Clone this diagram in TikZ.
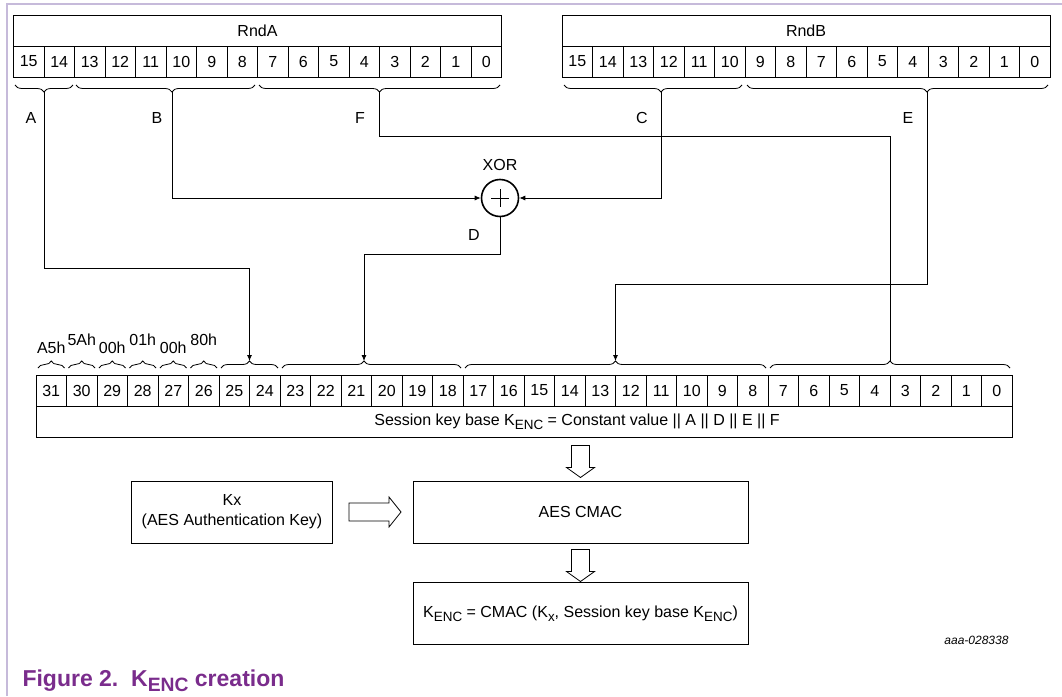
\documentclass[tikz,border=0pt]{standalone}
\usepackage{fontspec}
\setmainfont{Liberation Sans}
\usepackage{tikz}
\usetikzlibrary{arrows}
\usetikzlibrary{arrows.meta}
\usetikzlibrary{decorations.pathreplacing}
\usepackage{xcolor}
\definecolor{figpurple}{RGB}{122,44,140}
\definecolor{framelilac}{RGB}{198,186,218}
\newcommand{\subx}[1]{\raisebox{-0.45ex}{\scalebox{0.84}{#1}}}
\newcommand{\Kenc}{K\subx{ENC}}

\begin{document}
\begin{tikzpicture}[x=1pt,y=-1pt,font=\fontsize{16}{19}\selectfont]
\tikzstyle{bit}=[draw,line width=1pt,minimum width=30.5pt,minimum height=31pt,inner sep=0pt]
\tikzstyle{wordbox}=[draw,line width=1pt,minimum height=31pt,inner sep=0pt]
\tikzstyle{box}=[draw,line width=1pt,minimum height=62pt,inner sep=0pt,align=center,font=\fontsize{16}{20}\selectfont]
\tikzstyle{wire}=[line width=0.8pt]
\tikzstyle{tip}=[-{Latex[length=6pt,width=5pt]}]
\tikzstyle{brc}=[decorate,line width=0.8pt,decoration={brace,amplitude=7pt}]
\tikzstyle{hollow}=[draw,line width=0.8pt,line join=miter]

\useasboundingbox (0,0) rectangle (1062,696);
\draw[framelilac,line width=1.5pt] (7,696) -- (7,4) -- (1062,4);

% random numbers
\node[wordbox,minimum width=488pt] (rnda) at (257.5,30.5) {RndA};
\node[wordbox,minimum width=488pt] (rndb) at (806,30.5) {RndB};
\foreach \i in {0,...,15} {
  \node[bit] (a\i) at ({13.5+(15.5-\i)*30.5},61.5) {\i};
  \node[bit] (b\i) at ({562+(15.5-\i)*30.5},61.5) {\i};
}

\draw[brc,decoration={mirror}] (15,85) -- (73,85);
\draw[brc,decoration={mirror,aspect=0.536}] (76,85) -- (255,85);
\draw[brc,decoration={mirror}] (259,85) -- (500,85);
\draw[brc,decoration={mirror,aspect=0.545}] (564,85) -- (742,85);
\draw[brc,decoration={mirror,aspect=0.598}] (747,85) -- (1048,85);
\coordinate (tA) at (44,92);
\coordinate (tB) at (172,92);
\coordinate (tF) at (379.5,92);
\coordinate (tC) at (661,92);
\coordinate (tE) at (927,92);

\node (labA) at (31,118) {A};
\node (labB) at (157,118) {B};
\node (labF) at (360,118) {F};
\node (labC) at (642,118) {C};
\node (labE) at (908,118) {E};

% xor
\node[draw,circle,line width=1.6pt,minimum size=37pt,inner sep=0pt] (xor) at (500,198) {};
\draw[line width=0.8pt] (xor.center) ++(-9,0) -- ++(18,0);
\draw[line width=0.8pt] (xor.center) ++(0,-9) -- ++(0,18);
\node (xorlbl) at (500,165) {XOR};
\node (labD) at (474,235) {D};

% session key base
\node[wordbox,minimum width=976pt] (skb) at (524,421.5) {};
\node (skbtxt) at (577,421.5) {Session key base \Kenc{} = Constant value || A || D || E || F};
\foreach \i in {0,...,31}
  \node[bit] (s\i) at ({36+(31.5-\i)*30.5},390.5) {\i};

\foreach \v/\j/\yy in {A5h/0/348,5Ah/1/340,00h/2/348,01h/3/340,00h/4/348,80h/5/340} {
  \draw[brc] ({38+\j*30.5},368) -- ({64.5+\j*30.5},368);
  \node (k\j) at ({51.25+\j*30.5},\yy) {\v};
}
\draw[brc] (221,368) -- (278,368);
\draw[brc,decoration={aspect=0.458}] (282,368) -- (461,368);
\draw[brc] (465,368) -- (766,368);
\draw[brc] (770,368) -- (1010,368);
\coordinate (bA) at (249.5,361);
\coordinate (bD) at (364,361);
\coordinate (bE) at (615.5,361);
\coordinate (bF) at (890,361);

\draw[wire,tip] (tA) -- (tA |- 0,268) -| (bA);
\draw[wire,tip] (tB) |- (xor.west);
\draw[wire,tip] (tC) |- (xor.east);
\draw[wire,tip] (xor.south) -- (xor.south |- 0,254) -| (bD);
\draw[wire] (tF) -- (tF |- 0,136) -| (bF);
\draw[wire,tip] (tE) -- (tE |- 0,284) -| (bE);

% cmac
\node[box,minimum width=201pt] (kx) at (232,512) {Kx\\(AES Authentication Key)};
\node[box,minimum width=335pt] (cmac) at (580.5,512) {AES CMAC};
\node[box,minimum width=335pt] (kenc) at (580.5,613.5) {\Kenc{} = CMAC (K\subx{x}, Session key base \Kenc)};

\path (skb.south -| cmac.center) ++(0,8) coordinate (h1);
\path (cmac.south) ++(0,6) coordinate (h2);
\path (kx.east) ++(16,0) coordinate (h3);
\draw[hollow] (h1) ++(-9,0) -- ++(18,0) -- ++(0,22) -- ++(5,0) -- ++(-14,10) -- ++(-14,-10) -- ++(5,0) -- cycle;
\draw[hollow] (h2) ++(-9,0) -- ++(18,0) -- ++(0,22) -- ++(5,0) -- ++(-14,10) -- ++(-14,-10) -- ++(5,0) -- cycle;
\draw[hollow] (h3) ++(0,-9) -- ++(40,0) -- ++(0,-6) -- ++(12,15) -- ++(-12,15) -- ++(0,-6) -- ++(-40,0) -- cycle;

\node[anchor=base east,font=\fontsize{12}{14}\selectfont\itshape] (figid) at (1012,644) {aaa-028338};
\node[anchor=base west,text=figpurple,font=\fontsize{23}{26}\selectfont\bfseries] (cap) at (19,686) {Figure 2.\ \ \Kenc{} creation};
\end{tikzpicture}
\end{document}
